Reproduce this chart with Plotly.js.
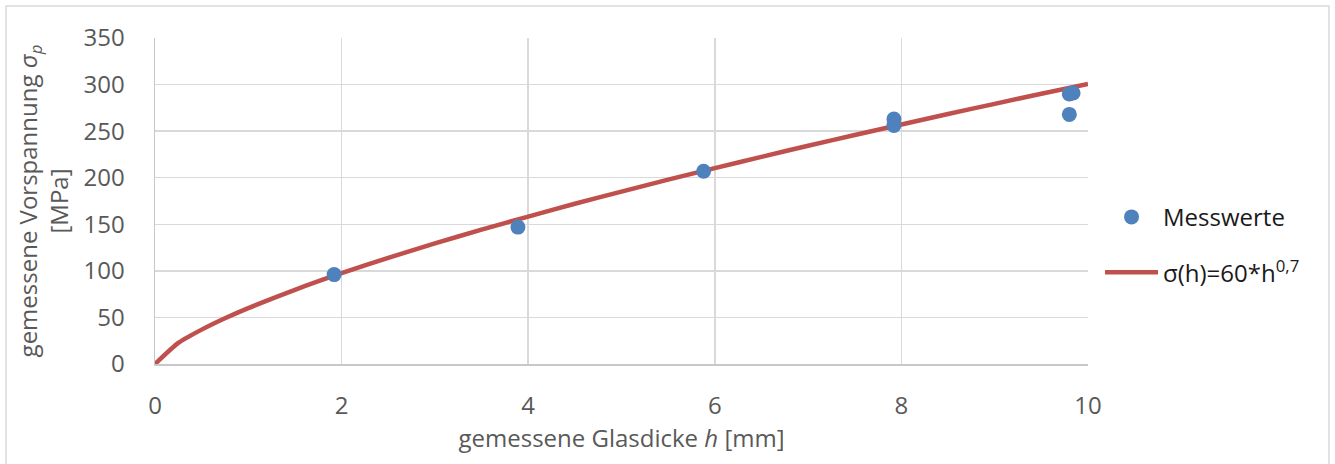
<!DOCTYPE html>
<html>
<head>
<meta charset="utf-8">
<script src="https://cdn.plot.ly/plotly-3.0.1.min.js"></script>
<style>
html,body{margin:0;padding:0;background:#fff;}
#chart{width:1335px;height:464px;}
</style>
</head>
<body>
<div id="chart"></div>
<script>
// Measured values (Messwerte)
const measH = [1.92, 3.89, 5.88, 7.92, 7.92, 9.80, 9.84, 9.80];
const measSigma = [96, 147, 207, 263, 256, 290, 291, 268];

// Fit curve sigma(h)=60*h^0.7
const fitH = [0, 0.25, 0.5, 0.75, 1, 1.5, 2, 2.5, 3, 3.5, 4, 4.5, 5, 5.5, 6, 6.5, 7, 7.5, 8, 8.5, 9, 9.5, 10];
const fitSigma = [0, 22.7, 36.9, 49.1, 60.0, 79.7, 97.5, 114.0, 129.5, 144.2, 158.3, 172.0, 185.1, 197.9, 210.3, 222.4, 234.3, 245.9, 257.2, 268.4, 279.3, 290.1, 300.7];

const xTicks = [0, 2, 4, 6, 8, 10];
const yTicks = [0, 50, 100, 150, 200, 250, 300, 350];

const FONT = '"Open Sans", "Noto Sans", "Liberation Sans", sans-serif';
const GRAY = '#595959';
const FS = 24;

const traces = [
  {
    x: fitH, y: fitSigma, type: 'scatter', mode: 'lines',
    name: 'σ(h)=60*h<sup>0,7</sup>',
    line: {color: '#c0504d', width: 4.5, shape: 'spline', smoothing: 0.6},
    legend: 'legend2'
  },
  {
    x: measH, y: measSigma, type: 'scatter', mode: 'markers',
    name: 'Messwerte',
    marker: {color: '#4f81bd', size: 15},
    legend: 'legend'
  }
];

const layout = {
  width: 1335, height: 464,
  margin: {l: 155, r: 247, t: 38, b: 100},
  paper_bgcolor: '#ffffff', plot_bgcolor: '#ffffff',
  font: {family: FONT, size: FS, color: GRAY},
  showlegend: true,
  xaxis: {
    range: [0, 10], tickvals: xTicks, ticktext: xTicks.map(String),
    showgrid: true, gridcolor: '#d9d9d9', gridwidth: 1.5,
    zeroline: false, showline: true, linecolor: '#c8c8c8', linewidth: 1.5,
    ticks: '', ticklabelstandoff: 20,
    tickfont: {family: FONT, size: FS, color: GRAY},
    title: {text: 'gemessene Glasdicke <i>h</i> [mm]', font: {family: FONT, size: FS, color: GRAY}, standoff: 10},
    automargin: false, fixedrange: true
  },
  yaxis: {
    range: [0, 350], tickvals: yTicks, ticktext: yTicks.map(String),
    showgrid: true, gridcolor: '#d9d9d9', gridwidth: 1.5,
    zeroline: false, showline: true, linecolor: '#c8c8c8', linewidth: 1.5,
    ticks: '', ticklabelstandoff: 24,
    tickfont: {family: FONT, size: FS, color: GRAY},
    title: {text: 'gemessene Vorspannung <i>σ</i><sub><i>p</i></sub><br>[MPa]', font: {family: FONT, size: FS, color: GRAY}, standoff: 8},
    automargin: false, fixedrange: true
  },
  legend: {
    x: 1.0129, xanchor: 'left', y: 0.45, yanchor: 'middle',
    font: {family: FONT, size: FS, color: '#1a1a1a'},
    bgcolor: 'rgba(0,0,0,0)', itemwidth: 53
  },
  legend2: {
    x: 1.0129, xanchor: 'left', y: 0.28, yanchor: 'middle',
    font: {family: FONT, size: FS, color: '#1a1a1a'},
    bgcolor: 'rgba(0,0,0,0)', itemwidth: 53
  },
  shapes: [
    {type: 'rect', xref: 'paper', yref: 'paper',
     x0: (6 - 155) / 933, x1: (1329 - 155) / 933,
     y0: (364 - 480) / 326, y1: (364 - 6) / 326,
     line: {color: '#d9d9d9', width: 1.5}, fillcolor: 'rgba(0,0,0,0)', layer: 'below'}
  ]
};

Plotly.newPlot('chart', traces, layout, {displayModeBar: false, staticPlot: true});
</script>
</body>
</html>
